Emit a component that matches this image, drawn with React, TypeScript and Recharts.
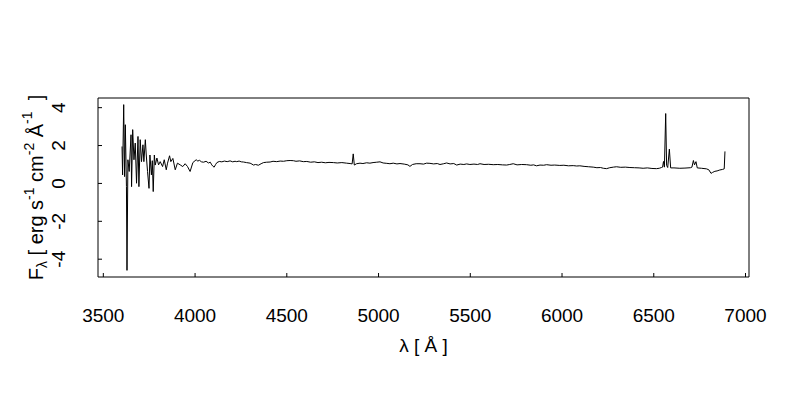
import React from 'react';
import { LineChart, Line, XAxis, YAxis, ReferenceArea, Label } from 'recharts';

// Spectrum (wavelength in Angstrom, flux density)
const wavelength = [
  3602, 3605, 3611, 3616, 3620, 3626, 3629, 3634, 3641, 3651, 3654, 3660, 3667, 3674, 3681, 3689,
  3694, 3701, 3708, 3716, 3721, 3729, 3734, 3741, 3749, 3754, 3762, 3767, 3772, 3778, 3783, 3792,
  3801, 3810, 3823, 3832, 3843, 3850, 3861, 3868, 3879, 3892, 3904, 3919, 3933, 3946, 3959, 3973,
  3988, 4006, 4015, 4024, 4035, 4046, 4060, 4073, 4083, 4091, 4098, 4104, 4112, 4119, 4132, 4146,
  4160, 4175, 4191, 4205, 4218, 4227, 4240, 4252, 4264, 4280, 4300, 4310, 4318, 4330, 4345, 4360,
  4373, 4390, 4409, 4425, 4445, 4464, 4482, 4500, 4518, 4536, 4550, 4570, 4590, 4609, 4630, 4650,
  4670, 4690, 4710, 4730, 4754, 4775, 4800, 4826, 4845, 4856, 4862, 4868, 4880, 4899, 4915, 4935,
  4953, 4970, 4990, 5008, 5025, 5045, 5062, 5080, 5100, 5117, 5140, 5160, 5171, 5185, 5205, 5226,
  5245, 5262, 5280, 5300, 5320, 5335, 5355, 5371, 5390, 5410, 5426, 5445, 5465, 5480, 5498, 5520,
  5540, 5553, 5575, 5600, 5625, 5650, 5675, 5698, 5715, 5734, 5755, 5780, 5807, 5830, 5845, 5861,
  5880, 5900, 5916, 5940, 5960, 5988, 6010, 6035, 6061, 6080, 6097, 6120, 6145, 6170, 6190, 6210,
  6225, 6243, 6260, 6280, 6297, 6320, 6345, 6370, 6395, 6420, 6442, 6465, 6490, 6515, 6530, 6542,
  6548, 6553, 6558, 6565, 6570, 6576, 6585, 6592, 6610, 6642, 6670, 6700, 6708, 6716, 6722, 6730,
  6737, 6760, 6787, 6800, 6812, 6820, 6833, 6845, 6860, 6875, 6884, 6888,
];

const flux = [
  1.95, 0.45, 4.16, 0.36, 3.1, -0.17, -4.59, 1.25, 0.63, 2.57, -0.17, 2.84, 1.25, 2.13, 0.01, 2.48,
  -0.17, 2.31, 1.15, 2.04, 1.15, 2.31, 1.5, 0.63, -0.26, 1.5, 0.45, 1.2, -0.43, 1.5, 0.97, 1.34,
  0.98, 1.15, 0.89, 1.25, 0.72, 1.07, 1.46, 1.15, 1.32, 0.72, 1.07, 0.98, 0.89, 1.04, 0.89, 0.63,
  1.1, 1.25, 1.18, 1.22, 1.14, 1.12, 1.17, 1.08, 1.12, 0.98, 0.9, 0.86, 1.0, 1.1, 1.16, 1.14,
  1.18, 1.15, 1.19, 1.14, 1.17, 1.15, 1.18, 1.14, 1.13, 1.1, 1.07, 1.02, 0.97, 1.0, 0.96, 1.04,
  1.1, 1.12, 1.13, 1.17, 1.15, 1.18, 1.17, 1.2, 1.21, 1.2, 1.17, 1.19, 1.15, 1.16, 1.12, 1.14,
  1.1, 1.12, 1.09, 1.11, 1.1, 1.08, 1.1, 1.07, 1.05, 1.03, 1.56, 0.97, 1.04, 1.07, 1.05, 1.09,
  1.07, 1.1, 1.12, 1.14, 1.08, 1.06, 1.04, 1.07, 1.03, 1.05, 1.02, 0.98, 0.9, 1.0, 1.04, 1.04,
  1.02, 1.07, 1.06, 1.03, 1.05, 1.0, 1.04, 1.08, 1.03, 1.05, 0.97, 1.02, 1.0, 1.03, 1.0, 1.02,
  1.0, 1.04, 1.0, 1.01, 0.99, 1.0, 0.98, 0.97, 1.0, 1.04, 0.98, 1.0, 0.99, 0.96, 0.98, 0.93,
  0.97, 0.96, 0.99, 0.96, 0.97, 0.95, 0.96, 0.93, 0.94, 0.92, 0.93, 0.9, 0.88, 0.86, 0.83, 0.84,
  0.8, 0.78, 0.83, 0.86, 0.88, 0.85, 0.86, 0.84, 0.83, 0.82, 0.8, 0.82, 0.79, 0.78, 0.8, 0.84,
  0.86, 1.16, 0.86, 3.69, 0.95, 0.84, 1.81, 0.82, 0.82, 0.8, 0.81, 0.83, 0.86, 1.21, 0.98, 1.15,
  0.82, 0.8, 0.77, 0.72, 0.53, 0.58, 0.64, 0.66, 0.71, 0.74, 0.77, 1.69,
];

const xTicks = [3500, 4000, 4500, 5000, 5500, 6000, 6500, 7000];
const yTicks = [-4, -2, 0, 2, 4];

const X_DOMAIN: [number, number] = [3471, 7019];
const Y_DOMAIN: [number, number] = [-4.94, 4.51];

const FONT = '"Liberation Sans", Arial, Helvetica, sans-serif';

const data = wavelength.map((w, i) => ({ w, f: flux[i] }));

// R-style ticks: short marks pointing inward, label below
const XTick = ({ x, y, payload }: any) => (
  <g>
    <line x1={x} x2={x} y1={y} y2={y - 4} stroke="#000" />
    <text x={x} y={y + 45} textAnchor="middle" fontSize={19} fontFamily={FONT} fill="#000">
      {payload.value}
    </text>
  </g>
);

const YTick = ({ x, y, payload }: any) => (
  <g>
    <line x1={x} x2={x + 4} y1={y} y2={y} stroke="#000" />
    <text
      x={65}
      y={y}
      transform={`rotate(-90 65 ${y})`}
      textAnchor="middle"
      fontSize={19}
      fontFamily={FONT}
      fill="#000"
    >
      {payload.value}
    </text>
  </g>
);

const XTitle = () => (
  <text x={423.5} y={352} textAnchor="middle" fontSize={19} fontFamily={FONT} fill="#000">
    λ [ Å ]
  </text>
);

const YTitle = () => (
  <text
    x={43}
    y={187.5}
    transform="rotate(-90 43 187.5)"
    textAnchor="middle"
    fontSize={20}
    fontFamily={FONT}
    fill="#000"
  >
    F
    <tspan fontSize={14} dy={4}>λ</tspan>
    <tspan dy={-4}> [ erg s</tspan>
    <tspan fontSize={14} dy={-9}>-1</tspan>
    <tspan dy={9}> cm</tspan>
    <tspan fontSize={14} dy={-9}>-2</tspan>
    <tspan dy={9}> Å</tspan>
    <tspan fontSize={14} dy={-11}>-1</tspan>
    <tspan dy={11}>{'\u00a0\u00a0]'}</tspan>
  </text>
);

export default function App() {
  return (
    <div style={{ position: 'absolute', left: 0, top: 0, width: 800, height: 400, background: '#fff' }}>
      <LineChart width={800} height={400} data={data} margin={{ top: 98, right: 51, bottom: 0, left: 0 }}>
        <XAxis
          dataKey="w"
          type="number"
          domain={X_DOMAIN}
          ticks={xTicks}
          interval={0}
          allowDataOverflow
          height={123}
          axisLine={false}
          tickLine={false}
          tickSize={0}
          tickMargin={0}
          tick={<XTick />}
        >
          <Label content={<XTitle />} />
        </XAxis>
        <YAxis
          type="number"
          domain={Y_DOMAIN}
          ticks={yTicks}
          interval={0}
          allowDataOverflow
          width={98}
          axisLine={false}
          tickLine={false}
          tickSize={0}
          tickMargin={0}
          tick={<YTick />}
        >
          <Label content={<YTitle />} />
        </YAxis>
        <ReferenceArea
          x1={X_DOMAIN[0]}
          x2={X_DOMAIN[1]}
          y1={Y_DOMAIN[0]}
          y2={Y_DOMAIN[1]}
          fill="none"
          stroke="#000"
          strokeWidth={1}
          ifOverflow="visible"
        />
        <Line
          type="linear"
          dataKey="f"
          stroke="#000"
          strokeWidth={1}
          dot={false}
          isAnimationActive={false}
        />
      </LineChart>
    </div>
  );
}
